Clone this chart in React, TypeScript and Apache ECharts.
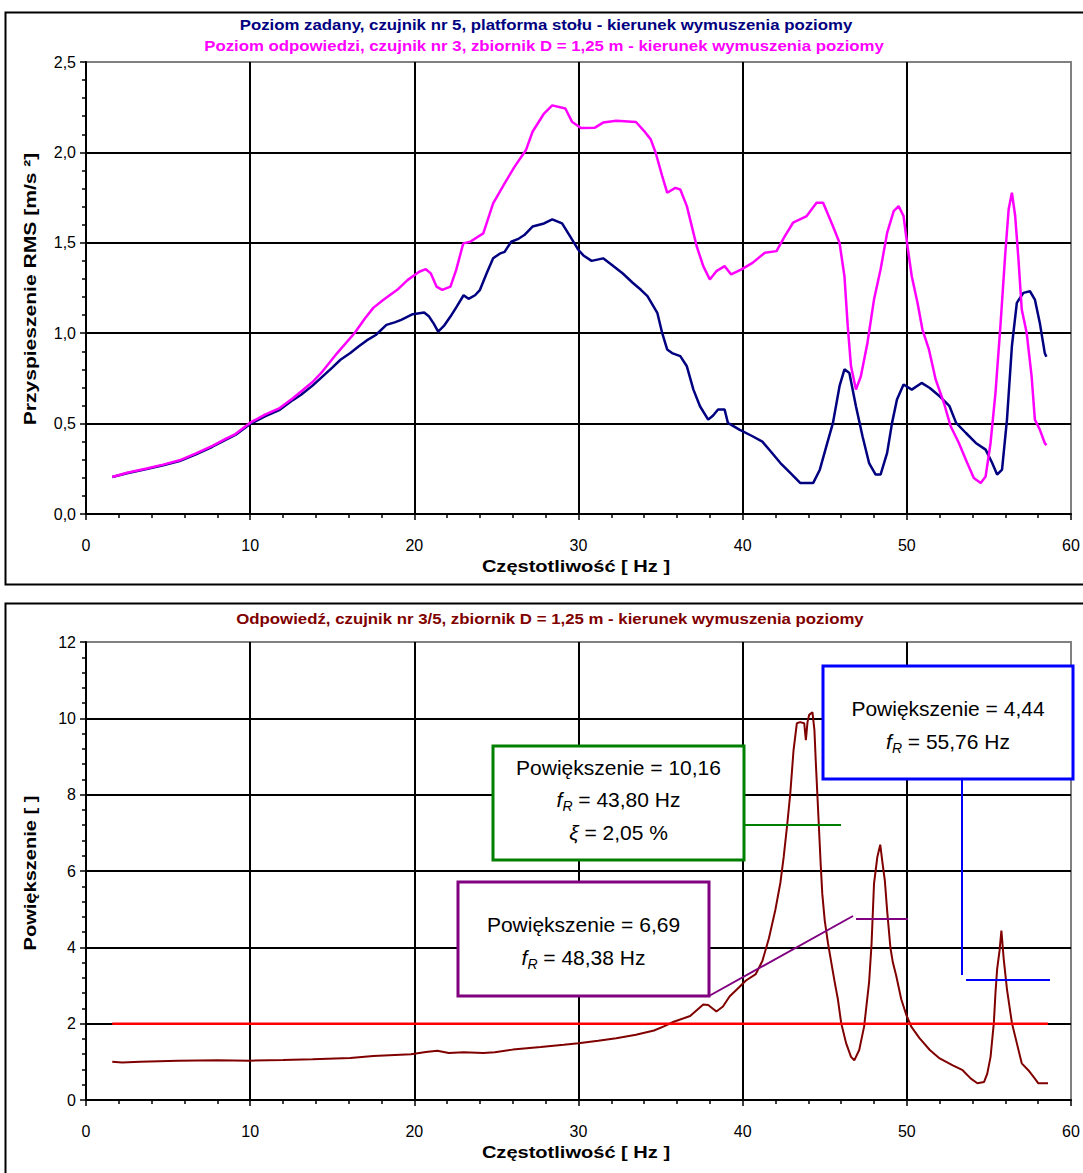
import React, { useEffect, useRef } from "react";
import * as echarts from "echarts";

// ---------- DATA ----------
const freqTicks = [0, 10, 20, 30, 40, 50, 60];

// Poziom zadany, czujnik nr 5 (navy) [Hz, m/s2]
const setpointRms: [number, number][] = [
  [1.6, 0.205], [2.5, 0.225], [3.7, 0.249], [4.7, 0.27], [5.7, 0.293], [6.7, 0.33], [7.7, 0.372],
  [8.5, 0.41], [9.1, 0.437], [10.0, 0.498], [10.9, 0.54], [11.8, 0.576], [12.6, 0.63], [13.1, 0.66],
  [13.8, 0.71], [14.4, 0.76], [15.0, 0.81], [15.5, 0.853], [16.1, 0.89], [16.6, 0.926], [17.1, 0.96],
  [17.65, 0.99], [18.3, 1.046], [18.8, 1.06], [19.2, 1.074], [19.9, 1.105], [20.6, 1.114], [20.9, 1.092],
  [21.2, 1.05], [21.45, 1.009], [21.8, 1.04], [22.2, 1.092], [22.6, 1.15], [23.0, 1.21], [23.3, 1.19],
  [23.7, 1.21], [24.0, 1.24], [24.4, 1.33], [24.8, 1.414], [25.2, 1.44], [25.5, 1.45], [25.9, 1.506],
  [26.3, 1.52], [26.7, 1.543], [27.2, 1.59], [27.9, 1.607], [28.4, 1.63], [29.0, 1.607], [29.5, 1.534],
  [30.0, 1.46], [30.3, 1.43], [30.8, 1.4], [31.5, 1.414], [32.0, 1.38], [32.7, 1.33], [33.3, 1.279],
  [33.8, 1.24], [34.2, 1.205], [34.8, 1.113], [35.1, 1.0], [35.4, 0.91], [35.7, 0.89], [36.2, 0.873],
  [36.6, 0.817], [37.0, 0.688], [37.4, 0.596], [37.9, 0.522], [38.2, 0.545], [38.5, 0.578], [38.9, 0.578],
  [39.1, 0.504], [39.8, 0.467], [40.6, 0.43], [41.2, 0.4], [41.7, 0.347], [42.3, 0.282], [42.9, 0.227],
  [43.5, 0.172], [44.3, 0.172], [44.7, 0.245], [45.1, 0.375], [45.5, 0.504], [45.9, 0.707], [46.2, 0.8],
  [46.5, 0.78], [46.9, 0.596], [47.3, 0.43], [47.7, 0.282], [48.1, 0.218], [48.4, 0.218], [48.8, 0.338],
  [49.1, 0.504], [49.4, 0.633], [49.8, 0.716], [50.3, 0.688], [50.9, 0.725], [51.4, 0.697], [52.0, 0.651],
  [52.6, 0.596], [53.0, 0.504], [53.6, 0.448], [54.2, 0.393], [54.8, 0.356], [55.2, 0.282], [55.5, 0.218],
  [55.8, 0.245], [56.1, 0.522], [56.4, 0.928], [56.7, 1.168], [57.1, 1.223], [57.5, 1.232], [57.8, 1.186],
  [58.1, 1.057], [58.4, 0.891], [58.5, 0.87],
];

// Poziom odpowiedzi, czujnik nr 3 (magenta) [Hz, m/s2]
const responseRms: [number, number][] = [
  [1.6, 0.205], [2.5, 0.228], [3.7, 0.252], [4.7, 0.273], [5.7, 0.297], [6.7, 0.335], [7.7, 0.377],
  [8.5, 0.415], [9.1, 0.442], [10.0, 0.505], [10.9, 0.55], [11.8, 0.586], [12.6, 0.64], [13.1, 0.678],
  [13.8, 0.73], [14.4, 0.788], [15.3, 0.89], [16.35, 1.0], [17.0, 1.083], [17.5, 1.14], [18.1, 1.184],
  [18.96, 1.24], [19.6, 1.295], [20.3, 1.34], [20.7, 1.354], [21.0, 1.331], [21.35, 1.258], [21.7, 1.24],
  [22.2, 1.258], [22.55, 1.35], [22.98, 1.497], [23.4, 1.506], [24.2, 1.552], [24.8, 1.718], [25.5, 1.829],
  [26.1, 1.92], [26.8, 2.013], [27.2, 2.114], [27.9, 2.215], [28.4, 2.26], [29.2, 2.243], [29.6, 2.17],
  [30.15, 2.135], [31.0, 2.137], [31.5, 2.165], [32.3, 2.175], [33.5, 2.168], [34.0, 2.118], [34.4, 2.072],
  [34.7, 1.998], [35.1, 1.869], [35.4, 1.777], [35.9, 1.804], [36.2, 1.795], [36.6, 1.703], [36.9, 1.592],
  [37.2, 1.481], [37.6, 1.371], [38.0, 1.297], [38.4, 1.343], [38.9, 1.371], [39.3, 1.325], [39.9, 1.352],
  [40.6, 1.389], [41.35, 1.445], [42.06, 1.454], [42.57, 1.537], [43.07, 1.611], [43.9, 1.648], [44.5, 1.721],
  [44.9, 1.721], [45.5, 1.592], [45.9, 1.5], [46.2, 1.315], [46.4, 1.039], [46.6, 0.817], [46.9, 0.688],
  [47.2, 0.762], [47.6, 0.946], [48.0, 1.186], [48.4, 1.352], [48.8, 1.555], [49.2, 1.675], [49.5, 1.703],
  [49.8, 1.648], [50.04, 1.481], [50.3, 1.315], [50.65, 1.168], [50.95, 1.02], [51.35, 0.909], [51.76, 0.743],
  [52.26, 0.614], [52.67, 0.485], [53.17, 0.393], [53.68, 0.282], [54.08, 0.199], [54.5, 0.172], [54.8, 0.208],
  [55.1, 0.393], [55.4, 0.67], [55.7, 1.039], [56.0, 1.445], [56.2, 1.684], [56.4, 1.777], [56.6, 1.648],
  [56.8, 1.408], [57.0, 1.131], [57.3, 1.002], [57.6, 0.762], [57.8, 0.522], [58.1, 0.467], [58.4, 0.393],
  [58.5, 0.38],
];

// Odpowiedź, czujnik nr 3/5 (dark red) [Hz, -]
const magnification: [number, number][] = [
  [1.6, 1.0], [2.2, 0.98], [3.3, 1.0], [5.6, 1.03], [8.0, 1.04], [10.0, 1.03], [12.0, 1.05], [13.8, 1.07],
  [16.1, 1.1], [17.5, 1.15], [19.8, 1.2], [20.7, 1.26], [21.4, 1.29], [22.1, 1.23], [23.0, 1.25], [24.2, 1.23],
  [24.9, 1.25], [26.0, 1.32], [27.7, 1.39], [29.1, 1.45], [30.0, 1.49], [31.2, 1.55], [32.3, 1.62], [33.5, 1.71],
  [34.6, 1.82], [35.2, 1.93], [35.8, 2.05], [36.8, 2.2], [37.6, 2.5], [37.9, 2.49], [38.4, 2.32], [38.8, 2.45],
  [39.2, 2.71], [39.8, 2.96], [40.2, 3.13], [40.8, 3.3], [41.2, 3.64], [41.6, 4.24], [42.0, 5.0], [42.3, 5.7],
  [42.5, 6.37], [42.7, 7.16], [42.9, 8.03], [43.1, 9.17], [43.3, 9.87], [43.5, 9.9], [43.75, 9.87],
  [43.85, 9.43], [43.95, 9.9], [44.05, 10.09], [44.25, 10.16], [44.37, 9.7], [44.45, 8.9], [44.55, 8.0],
  [44.65, 7.1], [44.75, 6.2], [44.85, 5.4], [45.0, 4.7], [45.2, 4.1], [45.4, 3.6], [45.6, 3.1], [45.8, 2.64],
  [46.0, 2.02], [46.3, 1.49], [46.6, 1.13], [46.8, 1.04], [47.1, 1.31], [47.4, 1.93], [47.7, 3.08],
  [47.85, 4.08], [48.0, 5.66], [48.2, 6.36], [48.38, 6.69], [48.5, 6.27], [48.66, 5.75], [48.8, 4.96],
  [49.0, 3.99], [49.15, 3.6], [49.35, 3.26], [49.66, 2.64], [49.96, 2.24], [50.26, 1.93], [50.77, 1.62],
  [51.4, 1.31], [52.0, 1.09], [52.8, 0.91], [53.4, 0.78], [53.9, 0.56], [54.3, 0.44], [54.7, 0.47],
  [54.9, 0.69], [55.1, 1.13], [55.3, 2.02], [55.4, 2.81], [55.5, 3.43], [55.65, 3.92], [55.76, 4.44],
  [55.9, 3.7], [56.1, 2.9], [56.4, 2.02], [56.7, 1.49], [57.0, 0.96], [57.4, 0.78], [57.8, 0.56], [58.0, 0.44],
  [58.6, 0.44],
];

// Threshold line at 2 (red)
const thresholdLine: [number, number][] = [[1.6, 2], [58.6, 2]];

const titleTop1 = "Poziom zadany, czujnik nr 5, platforma stołu - kierunek wymuszenia poziomy";
const titleTop2 = "Poziom odpowiedzi, czujnik nr 3, zbiornik D = 1,25 m - kierunek wymuszenia poziomy";
const titleBottom = "Odpowiedź, czujnik nr 3/5, zbiornik D = 1,25 m - kierunek wymuszenia poziomy";
const xAxisName = "Częstotliwość [ Hz ]";
const yAxisNameTop = "Przyspieszenie RMS [m/s ²]";
const yAxisNameBottom = "Powiększenie [ ]";

// ---------- STYLE ----------
const FF = "'Liberation Sans', Arial, sans-serif";

function xAxisFor(gridIndex: number) {
  return {
    type: "value",
    gridIndex,
    min: freqTicks[0],
    max: freqTicks[freqTicks.length - 1],
    interval: 10,
    axisLine: { show: true, onZero: false, lineStyle: { color: "#000", width: 2 } },
    axisTick: { show: true, length: 6, lineStyle: { color: "#000", width: 1.5 } },
    minorTick: { show: true, splitNumber: 5, length: 4, lineStyle: { color: "#000", width: 1.5 } },
    axisLabel: { fontFamily: FF, fontSize: 16, color: "#000", margin: 23 },
    splitLine: { show: true, showMaxLine: false, lineStyle: { color: "#000", width: 2 } },
  };
}

function yAxisFor(gridIndex: number, max: number, interval: number, fmt: (v: number) => string) {
  return {
    type: "value",
    gridIndex,
    min: 0,
    max,
    interval,
    axisLine: { show: true, onZero: false, lineStyle: { color: "#000", width: 2 } },
    axisTick: { show: true, length: 6, lineStyle: { color: "#000", width: 1.5 } },
    minorTick: { show: true, splitNumber: 5, length: 4, lineStyle: { color: "#000", width: 1.5 } },
    axisLabel: { fontFamily: FF, fontSize: 16, color: "#000", margin: 10, formatter: fmt },
    splitLine: { show: true, showMaxLine: false, lineStyle: { color: "#000", width: 2 } },
  };
}

function centeredText(x: number, y: number, text: string, opts: any = {}) {
  return {
    type: "text",
    x,
    y,
    z: 200,
    rotation: opts.rotation ?? 0,
    scaleX: opts.scaleX ?? 1,
    style: {
      text,
      fontFamily: FF,
      fontSize: opts.fontSize ?? 21,
      fontWeight: opts.fontWeight ?? "normal",
      fill: opts.fill ?? "#000",
      align: "center",
      verticalAlign: "middle",
      textAlign: "center",
      textVerticalAlign: "middle",
      rich: opts.rich,
    },
  };
}

const boxRich = {
  i: { fontFamily: FF, fontSize: 21, fontStyle: "italic", fill: "#000", lineHeight: 27 },
  s: { fontFamily: FF, fontSize: 14, fontStyle: "italic", fill: "#000", verticalAlign: "bottom", lineHeight: 20 },
  n: { fontFamily: FF, fontSize: 21, fill: "#000", lineHeight: 27 },
};

function box(x: number, y: number, w: number, h: number, color: string) {
  return {
    type: "rect",
    z: 150,
    shape: { x, y, width: w, height: h },
    style: { fill: "#fff", stroke: color, lineWidth: 3 },
  };
}

function seg(x1: number, y1: number, x2: number, y2: number, color: string) {
  return {
    type: "line",
    z: 150,
    shape: { x1, y1, x2, y2 },
    style: { stroke: color, lineWidth: 2 },
  };
}

const option: any = {
  animation: false,
  backgroundColor: "#fff",
  grid: [
    { left: 86, right: 12, top: 62, height: 452, show: true, borderColor: "#808080", borderWidth: 2, backgroundColor: "#fff" },
    { left: 86, right: 12, top: 642, height: 458, show: true, borderColor: "#808080", borderWidth: 2, backgroundColor: "#fff" },
  ],
  xAxis: [xAxisFor(0), xAxisFor(1)],
  yAxis: [
    yAxisFor(0, 2.5, 0.5, (v: number) => v.toFixed(1).replace(".", ",")),
    yAxisFor(1, 12, 2, (v: number) => String(v)),
  ],
  series: [
    {
      name: "Poziom zadany",
      type: "line",
      xAxisIndex: 0,
      yAxisIndex: 0,
      data: setpointRms,
      showSymbol: false,
      lineStyle: { color: "#000080", width: 2.5 },
      itemStyle: { color: "#000080" },
    },
    {
      name: "Poziom odpowiedzi",
      type: "line",
      xAxisIndex: 0,
      yAxisIndex: 0,
      data: responseRms,
      showSymbol: false,
      lineStyle: { color: "#FF00FF", width: 2.5 },
      itemStyle: { color: "#FF00FF" },
    },
    {
      name: "Odpowiedź",
      type: "line",
      xAxisIndex: 1,
      yAxisIndex: 1,
      data: magnification,
      showSymbol: false,
      lineStyle: { color: "#800000", width: 2 },
      itemStyle: { color: "#800000" },
    },
    {
      name: "Próg",
      type: "line",
      xAxisIndex: 1,
      yAxisIndex: 1,
      data: thresholdLine,
      showSymbol: false,
      lineStyle: { color: "#FF0000", width: 2.5 },
      itemStyle: { color: "#FF0000" },
    },
  ],
  graphic: [
    // chart frames
    { type: "rect", z: 0, silent: true, shape: { x: 5.5, y: 12.5, width: 1100, height: 572 }, style: { fill: "none", stroke: "#000", lineWidth: 2 } },
    { type: "rect", z: 0, silent: true, shape: { x: 5.5, y: 603.5, width: 1100, height: 600 }, style: { fill: "none", stroke: "#000", lineWidth: 2 } },
    // titles
    centeredText(546, 25, titleTop1, { fontSize: 14, fontWeight: "bold", fill: "#000080", scaleX: 1.2 }),
    centeredText(544, 46, titleTop2, { fontSize: 14, fontWeight: "bold", fill: "#FF00FF", scaleX: 1.2 }),
    centeredText(550, 619, titleBottom, { fontSize: 14, fontWeight: "bold", fill: "#800000", scaleX: 1.2 }),
    // axis names
    centeredText(576, 566, xAxisName, { fontSize: 17, fontWeight: "bold", scaleX: 1.18 }),
    centeredText(576, 1152, xAxisName, { fontSize: 17, fontWeight: "bold", scaleX: 1.18 }),
    centeredText(30, 289, yAxisNameTop, { fontSize: 17, fontWeight: "bold", scaleX: 1.24, rotation: Math.PI / 2 }),
    centeredText(30, 873, yAxisNameBottom, { fontSize: 17, fontWeight: "bold", scaleX: 1.18, rotation: Math.PI / 2 }),
    // green callout
    seg(744, 825, 841, 825, "#008000"),
    box(493, 746, 251, 114, "#008000"),
    centeredText(618.5, 767, "Powiększenie = 10,16"),
    centeredText(618.5, 799, "{i|f}{s|R}{n| = 43,80 Hz}", { rich: boxRich }),
    centeredText(618.5, 832, "{i|ξ}{n| = 2,05 %}", { rich: boxRich }),
    // blue callout
    seg(962, 779, 962, 975, "#0000FF"),
    seg(966, 980, 1050, 980, "#0000FF"),
    box(823, 666, 250, 113, "#0000FF"),
    centeredText(948, 708, "Powiększenie = 4,44"),
    centeredText(948, 741, "{i|f}{s|R}{n| = 55,76 Hz}", { rich: boxRich }),
    // purple callout
    seg(709, 996, 853, 916, "#800080"),
    seg(856, 919, 908, 919, "#800080"),
    box(458, 882, 251, 114, "#800080"),
    centeredText(583.5, 924, "Powiększenie = 6,69"),
    centeredText(583.5, 957, "{i|f}{s|R}{n| = 48,38 Hz}", { rich: boxRich }),
  ],
};

export default function App() {
  const ref = useRef<HTMLDivElement>(null);
  useEffect(() => {
    document.body.style.margin = "0";
    if (!ref.current) return;
    const chart = echarts.init(ref.current, null, { renderer: "svg" });
    chart.setOption(option);
    return () => chart.dispose();
  }, []);
  return <div ref={ref} style={{ width: 1083, height: 1173, background: "#fff" }} />;
}
